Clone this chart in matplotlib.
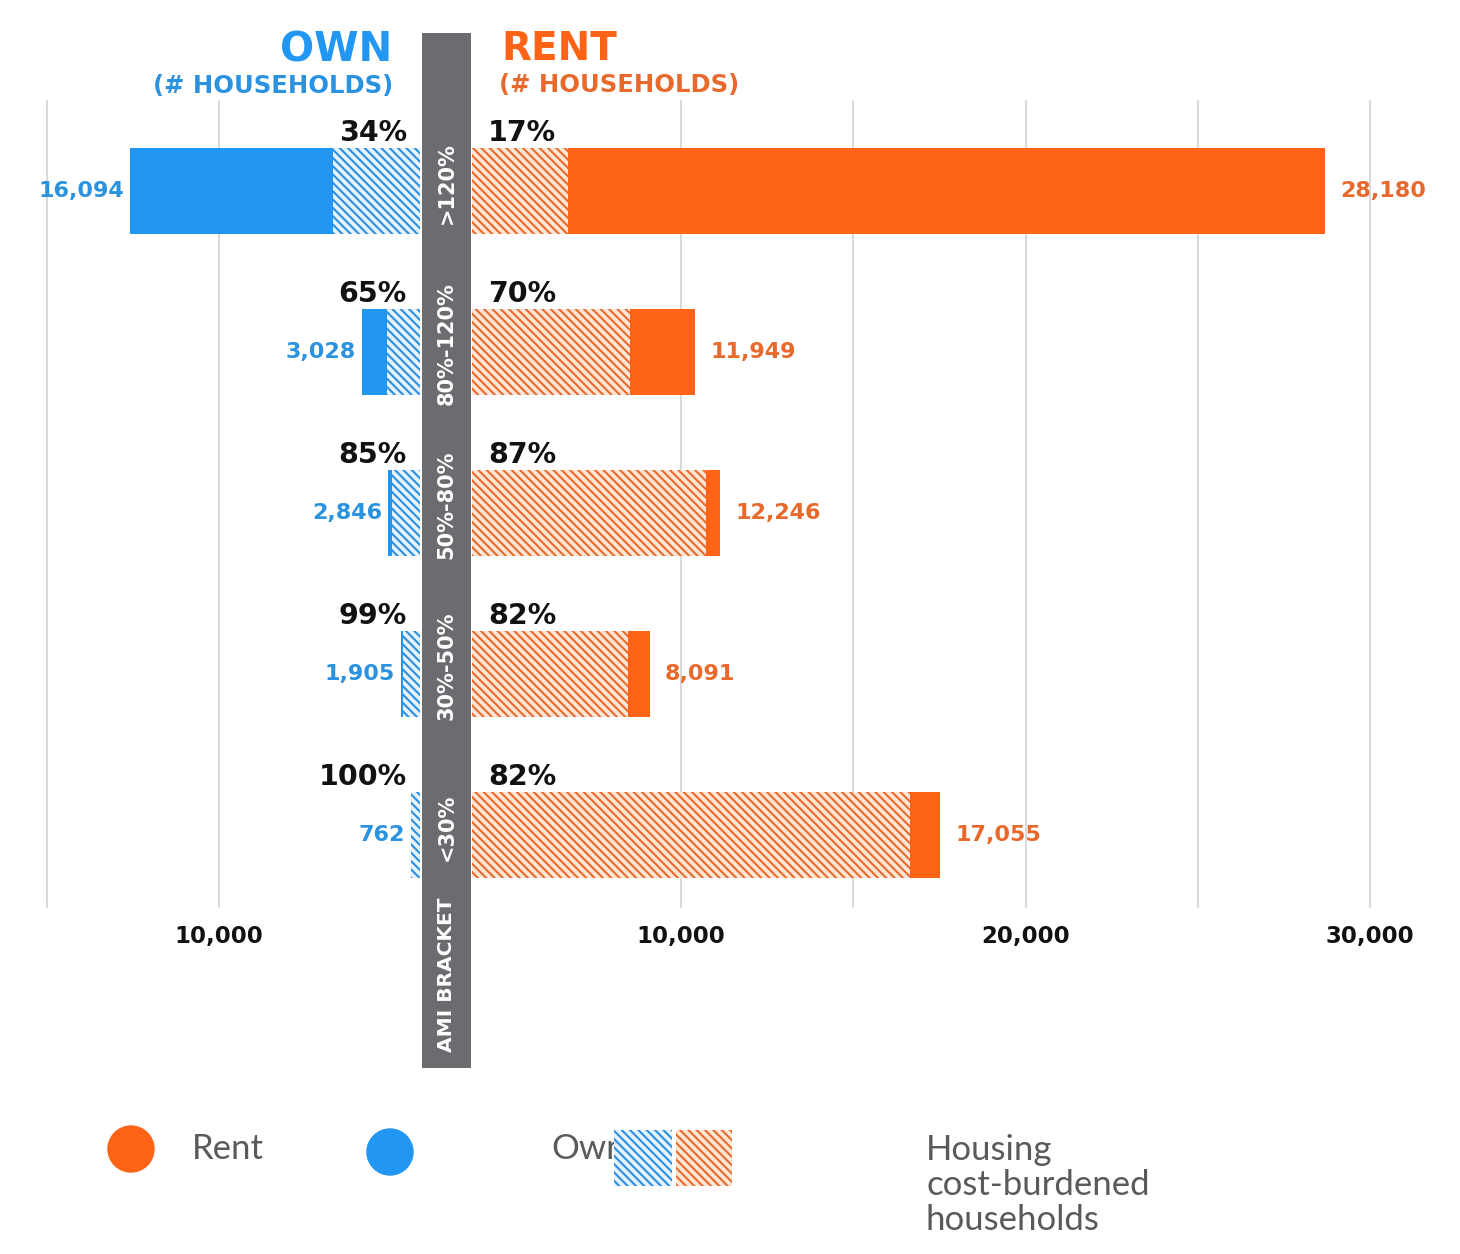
import matplotlib
matplotlib.use('Agg')
import matplotlib.pyplot as plt
from matplotlib.patches import Rectangle, Circle
from matplotlib.ticker import FixedLocator, FuncFormatter
from matplotlib.transforms import blended_transform_factory

# --- data ---
brackets          = ['>120%', '80%-120%', '50%-80%', '30%-50%', '<30%']
own_households    = [16094, 3028, 2846, 1905, 762]
rent_households   = [28180, 11949, 12246, 8091, 17055]
own_burdened_pct  = [34, 65, 85, 99, 100]
rent_burdened_pct = [17, 70, 87, 82, 82]

# where the bars actually end on the printed household axis (graphic is not to scale)
own_bar_end      = [12580, 5850, 5090, 4720, 4430]
own_burden_end   = [6690, 5120, 4980, 4660, 4430]
rent_bar_end     = [28690, 10410, 11130, 9100, 17520]
rent_burden_end  = [6720, 8520, 10730, 8460, 16650]

own_grid   = [10000, 15000]
own_ticks  = [10000]
rent_grid  = [10000, 15000, 20000, 25000, 30000]
rent_ticks = [10000, 20000, 30000]

# --- styling ---
BLUE         = '#2196f3'
ORANGE       = '#ff6316'
BLUE_TXT     = '#2b92e0'
ORANGE_TXT   = '#e8692c'
BLUE_HATCH   = '#2b8fe3'
ORANGE_HATCH = '#ea6b2c'
HATCH_BG_B   = '#e6f3fd'
HATCH_BG_O   = '#fde6d8'
BAND         = '#6b6c6f'
GRID         = '#cfcfcf'
BAR_H        = 0.535
HATCH        = '\\\\\\\\'

plt.rcParams['font.family'] = 'DejaVu Sans'
plt.rcParams['hatch.linewidth'] = 1.5

W, H = 1460, 1254


def px_box(x0, y0, x1, y1):
    """figure-pixel box -> add_axes rect"""
    return [x0 / W, 1 - y1 / H, (x1 - x0) / W, (y1 - y0) / H]


fig = plt.figure(figsize=(W / 100, H / 100), dpi=100)
fig.patch.set_facecolor('white')

# decoration layer (legend) in figure pixels
ax_deco = fig.add_axes([0, 0, 1, 1])
ax_deco.set_xlim(0, W)
ax_deco.set_ylim(H, 0)
ax_deco.axis('off')

ax_own  = fig.add_axes(px_box(20, 100, 420, 908))
ax_rent = fig.add_axes(px_box(472, 100, 1430, 908))
ax_band = fig.add_axes(px_box(422, 33, 471, 1068))

rows = list(range(len(brackets)))

ax_own.set_xlim(15780, 4170)     # inverted: grows to the left
ax_rent.set_xlim(3930, 31740)

for ax, grid, ticks in [(ax_own, own_grid, own_ticks), (ax_rent, rent_grid, rent_ticks)]:
    ax.set_ylim(4.453, -0.565)
    ax.set_facecolor('none')
    for s in ax.spines.values():
        s.set_visible(False)
    ax.set_yticks([])
    ax.set_xticks(ticks)
    ax.xaxis.set_minor_locator(FixedLocator([g for g in grid if g not in ticks]))
    ax.xaxis.set_major_formatter(FuncFormatter(lambda v, _: f'{v:,.0f}'))
    ax.grid(axis='x', which='both', color=GRID, linewidth=1.1)
    ax.set_axisbelow(True)
    ax.tick_params(axis='x', which='both', length=0, pad=12, labelsize=16.5,
                   labelcolor='#111111')
    for lab in ax.get_xticklabels():
        lab.set_fontweight('bold')

# --- own bars ---
x0_own = ax_own.get_xlim()[1]
ax_own.barh(rows, [b - x0_own for b in own_burden_end], left=x0_own, height=BAR_H,
            color=HATCH_BG_B, edgecolor=BLUE_HATCH, hatch=HATCH, linewidth=0)
ax_own.barh(rows, [e - b for e, b in zip(own_bar_end, own_burden_end)], left=own_burden_end,
            height=BAR_H, color=BLUE, linewidth=0)

# --- rent bars ---
x0_rent = ax_rent.get_xlim()[0]
ax_rent.barh(rows, [b - x0_rent for b in rent_burden_end], left=x0_rent, height=BAR_H,
             color=HATCH_BG_O, edgecolor=ORANGE_HATCH, hatch=HATCH, linewidth=0)
ax_rent.barh(rows, [e - b for e, b in zip(rent_bar_end, rent_burden_end)], left=rent_burden_end,
             height=BAR_H, color=ORANGE, linewidth=0)

# --- labels ---
for i in rows:
    ax_own.annotate(f'{own_households[i]:,}', xy=(own_bar_end[i], i), xytext=(-6, 0),
                    textcoords='offset pixels', ha='right', va='center',
                    fontsize=16, fontweight='bold', color=BLUE_TXT)
    ax_rent.annotate(f'{rent_households[i]:,}', xy=(rent_bar_end[i], i), xytext=(15, 0),
                     textcoords='offset pixels', ha='left', va='center',
                     fontsize=16, fontweight='bold', color=ORANGE_TXT)
    ax_own.annotate(f'{own_burdened_pct[i]}%', xy=(1, i - BAR_H / 2),
                    xycoords=('axes fraction', 'data'), xytext=(-13, 7),
                    textcoords='offset pixels', ha='right', va='baseline',
                    fontsize=20.5, fontweight='bold', color='#111111')
    ax_rent.annotate(f'{rent_burdened_pct[i]}%', xy=(0, i - BAR_H / 2),
                     xycoords=('axes fraction', 'data'), xytext=(16, 7),
                     textcoords='offset pixels', ha='left', va='baseline',
                     fontsize=20.5, fontweight='bold', color='#111111')

# --- central AMI band ---
ax_band.set_facecolor(BAND)
ax_band.set_xticks([])
ax_band.set_yticks([])
for s in ax_band.spines.values():
    s.set_visible(False)
band_tr = blended_transform_factory(ax_band.transAxes, ax_rent.transData)
for i, b in enumerate(brackets):
    ax_band.text(0.5, i - 0.05, b, transform=band_tr, rotation=90, ha='center', va='center',
                 color='white', fontsize=15, fontweight='bold')
ax_band.text(0.5, 0.09, 'AMI BRACKET', transform=ax_band.transAxes, rotation=90,
             ha='center', va='center', color='white', fontsize=14.5, fontweight='bold')

# --- headers ---
fig.text(392 / W, 1 - 50 / H, 'OWN', ha='right', va='center', fontsize=29,
         fontweight='bold', color=BLUE)
fig.text(393 / W, 1 - 86 / H, '(# HOUSEHOLDS)', ha='right', va='center', fontsize=17.5,
         fontweight='bold', color=BLUE_TXT)
fig.text(501 / W, 1 - 49 / H, 'RENT', ha='left', va='center', fontsize=28,
         fontweight='bold', color=ORANGE)
fig.text(499 / W, 1 - 85 / H, '(# HOUSEHOLDS)', ha='left', va='center', fontsize=17.5,
         fontweight='bold', color=ORANGE_TXT)

# --- legend ---
LEG_FONT = dict(family=['Lato', 'DejaVu Sans'], fontweight='normal', color='#5a5a5a', fontsize=25)
ax_deco.add_patch(Circle((131, 1149), 23, color=ORANGE, zorder=2))
ax_deco.text(192, 1149, 'Rent', ha='left', va='center', **LEG_FONT)
ax_deco.add_patch(Circle((390, 1152), 23, color=BLUE, zorder=2))
ax_deco.text(551, 1149, 'Own', ha='left', va='center', zorder=1, **LEG_FONT)
ax_deco.add_patch(Rectangle((614, 1130), 58, 56, facecolor=HATCH_BG_B, edgecolor=BLUE_HATCH,
                            hatch=HATCH, linewidth=0, zorder=3))
ax_deco.add_patch(Rectangle((676, 1130), 56, 56, facecolor=HATCH_BG_O, edgecolor=ORANGE_HATCH,
                            hatch=HATCH, linewidth=0, zorder=3))
ax_deco.text(926, 1134, 'Housing\ncost-burdened\nhouseholds', ha='left', va='top',
             linespacing=1.12, **LEG_FONT)

fig.savefig('out.png', dpi=100, facecolor='white')
plt.close(fig)
